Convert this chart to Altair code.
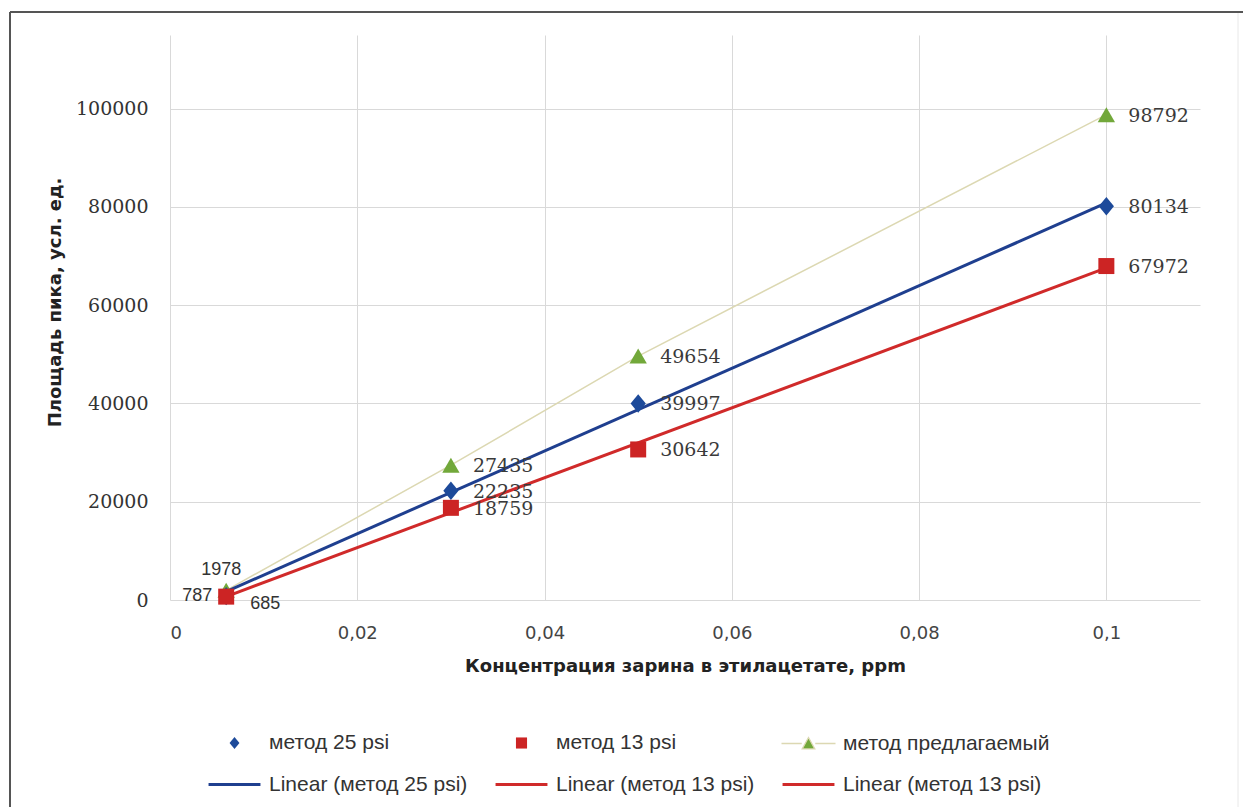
import altair as alt
import pandas as pd

# Sarin concentration in ethyl acetate, ppm
conc = [0.006, 0.03, 0.05, 0.1]
# Peak areas, arbitrary units
area_25 = [787, 22235, 39997, 80134]      # method 25 psi
area_13 = [685, 18759, 30642, 67972]      # method 13 psi
area_new = [1978, 27435, 49654, 98792]    # proposed method

x_ticks = [0, 0.02, 0.04, 0.06, 0.08, 0.1]
y_ticks = [0, 20000, 40000, 60000, 80000, 100000]

BLUE = "#1f3f8f"
BLUE_PT = "#1d4a9a"
RED = "#d02a2a"
RED_PT = "#cc2424"
GREEN = "#72a83a"
TAN = "#dcd8b2"

# legend entries, listed column by column (the legend fills columns first)
legend_keys = [
    "метод 25 psi",
    "Linear (метод 25 psi)",
    "метод 13 psi",
    "Linear (метод 13 psi)",
    "метод предлагаемый",
    "Linear (метод 13 psi) ",
]
LINE = "M-1.73,0H1.73"
legend_shapes = [
    "M0,-0.4L0.33,0L0,0.4L-0.33,0Z",
    LINE,
    "M-0.37,-0.37H0.37V0.37H-0.37Z",
    LINE,
    "M-1.8,0H-0.45M0.45,0H1.8M0,-0.4L0.42,0.36H-0.42Z",
    LINE,
]
legend_fill = [BLUE_PT, "transparent", RED_PT, "transparent", GREEN, "transparent"]
legend_stroke = ["transparent", BLUE, "transparent", RED, TAN, RED]
legend_width = [0, 3, 0, 3, 1.3, 3]

series = pd.DataFrame({
    "conc": conc * 3,
    "area": area_25 + area_13 + area_new,
    "series": ["25"] * 4 + ["13"] * 4 + ["new"] * 4,
})

W, H = 1030, 565
PAD = {"left": 170, "top": 35, "right": 43, "bottom": 207}

x_enc = alt.X(
    "conc:Q",
    scale=alt.Scale(domain=[0, 0.11], nice=False, zero=False),
    axis=alt.Axis(
        values=x_ticks,
        labelExpr="replace(format(datum.value, '~g'), '.', ',')",
        title="Концентрация зарина в этилацетате, ppm",
        labelFont="DejaVu Sans", labelFontSize=18, labelColor="#444",
        labelPadding=24, titlePadding=15,
    ),
)
y_enc = alt.Y(
    "area:Q",
    scale=alt.Scale(domain=[0, 115000], nice=False),
    axis=alt.Axis(
        values=y_ticks, format="d",
        title="Площадь пика, усл. ед.",
        labelFont="DejaVu Serif", labelFontSize=19, labelColor="#333",
        labelPadding=22,
        titleX=-115, titleY=267, titleAlign="center", titleBaseline="middle",
    ),
)

base = alt.Chart(series)


def pick(name):
    return base.transform_filter(alt.datum.series == name)


# thin connecting line of the proposed method
line_new = pick("new").mark_line(color=TAN, strokeWidth=1.5).encode(x=x_enc, y=y_enc)

# linear trend lines
trend_25 = pick("25").transform_regression("conc", "area").mark_line(
    color=BLUE, strokeWidth=3).encode(x="conc:Q", y="area:Q")
trend_13 = pick("13").transform_regression("conc", "area").mark_line(
    color=RED, strokeWidth=3).encode(x="conc:Q", y="area:Q")

pts_new = pick("new").mark_point(shape="triangle-up", filled=True, size=300,
                                 color=GREEN, opacity=1).encode(x="conc:Q", y="area:Q")
pts_25 = pick("25").mark_point(shape="M0,-1.15L0.95,0L0,1.15L-0.95,0Z", filled=True,
                               size=256, color=BLUE_PT, opacity=1).encode(x="conc:Q", y="area:Q")
pts_13 = pick("13").mark_point(shape="square", filled=True, size=256,
                               color=RED_PT, opacity=1).encode(x="conc:Q", y="area:Q")

# value labels
serif_lbl = dict(font="DejaVu Serif", fontSize=19, color="#3a3a3a", baseline="middle")
sans_lbl = dict(font="Liberation Sans", fontSize=18, color="#333", baseline="middle")

labels_main = base.transform_filter(alt.datum.conc > 0.01).mark_text(
    align="left", dx=22, dy=1, **serif_lbl).encode(x="conc:Q", y="area:Q", text="area:Q")
label_new0 = pick("new").transform_filter(alt.datum.conc < 0.01).mark_text(
    align="center", dx=-5, dy=-20, **sans_lbl).encode(x="conc:Q", y="area:Q", text="area:Q")
label_25_0 = pick("25").transform_filter(alt.datum.conc < 0.01).mark_text(
    align="right", dx=-14, dy=0, **sans_lbl).encode(x="conc:Q", y="area:Q", text="area:Q")
label_13_0 = pick("13").transform_filter(alt.datum.conc < 0.01).mark_text(
    align="left", dx=24, dy=7, **sans_lbl).encode(x="conc:Q", y="area:Q", text="area:Q")

# legend carrier (size 0, only its legend is shown)
legend_def = alt.Legend(
    title=None, orient="none", legendX=48, legendY=692, columns=3,
    symbolSize=900, symbolOpacity=1, labelFont="Liberation Sans", labelFontSize=21,
    labelColor="#333", labelOffset=18, labelLimit=400, columnPadding=13,
    rowPadding=14, gridAlign="all", padding=0,
)
legend_layer = alt.Chart(pd.DataFrame({"entry": legend_keys})).mark_point(
    filled=True, size=0).encode(
    color=alt.Color("entry:N", scale=alt.Scale(domain=legend_keys, range=legend_fill), legend=legend_def),
    stroke=alt.Stroke("entry:N", scale=alt.Scale(domain=legend_keys, range=legend_stroke), legend=legend_def),
    shape=alt.Shape("entry:N", scale=alt.Scale(domain=legend_keys, range=legend_shapes), legend=legend_def),
    strokeWidth=alt.StrokeWidth("entry:N", scale=alt.Scale(type="ordinal", domain=legend_keys, range=legend_width), legend=legend_def),
)

# outer frame
one = alt.Chart(pd.DataFrame({"k": [0]}))
frame_left = one.mark_rule(color="#555", strokeWidth=2).encode(
    x=alt.value(-160), y=alt.value(-23), y2=alt.value(772))
frame_top = one.mark_rule(color="#555", strokeWidth=2).encode(
    x=alt.value(-160), x2=alt.value(1073), y=alt.value(-23))
frame_right = one.mark_rule(color="#e8e8e8", strokeWidth=1).encode(
    x=alt.value(1068), y=alt.value(-22), y2=alt.value(772))

chart = alt.layer(
    line_new, trend_25, trend_13, pts_new, pts_25, pts_13,
    labels_main, label_new0, label_25_0, label_13_0,
    legend_layer, frame_left, frame_top, frame_right,
).resolve_scale(
    color="independent", stroke="independent", shape="independent", strokeWidth="independent"
).properties(
    width=W, height=H, padding=PAD, autosize=alt.AutoSizeParams(type="none"),
    background="white",
).configure_view(
    fill="#efefef", stroke=None,
).configure_axis(
    domain=False, ticks=False, grid=True, gridColor="#d9d9d9", gridWidth=1,
    titleFont="DejaVu Sans", titleFontWeight="bold", titleFontSize=18, titleColor="#222",
)

chart.save("out.html", embed_options={"renderer": "svg", "actions": False})
